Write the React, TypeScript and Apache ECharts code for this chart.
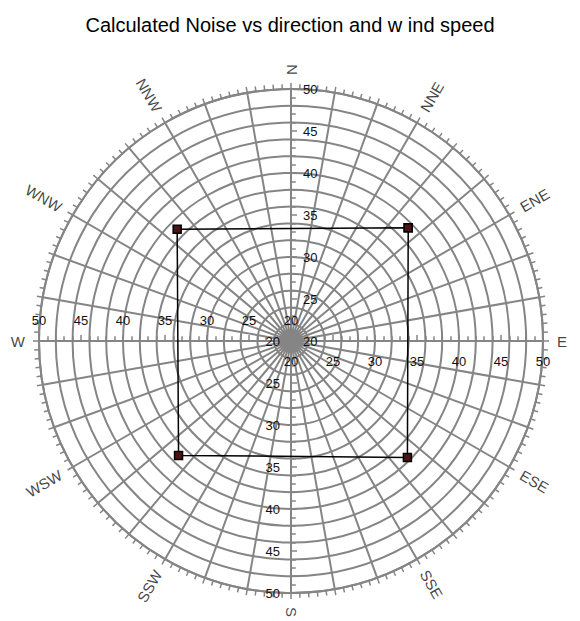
import React, { useEffect, useRef } from "react";
import * as echarts from "echarts";

const titleText = "Calculated Noise vs direction and w ind speed";
const compassNames = ["N", "NNE", "ENE", "E", "ESE", "SSE", "S", "SSW", "WSW", "W", "WNW", "NNW"];
const compassAngles = [0, 30, 60, 90, 120, 150, 180, 210, 240, 270, 300, 330];
const noiseAngles = [46, 135, 224.5, 314.5, 46];
const noiseValues = [39.4, 39.6, 39.1, 39.0, 39.4];
const radiusMin = 20;
const radiusMax = 50;

const GRAY = "#858585";
const FONT = "Liberation Sans, Arial, sans-serif";
const CENTER = [291, 341];
const R = 252;

export default function App() {
  const ref = useRef<HTMLDivElement>(null);
  useEffect(() => {
    if (!ref.current) return;
    const chart = echarts.init(ref.current, undefined, { renderer: "svg" });

    // axis polars: N, E, S, W
    const axisDirs = [
      { start: 90, margin: -12, align: "left", va: "middle", tick: -6 },
      { start: 0, margin: -14, align: "center", va: "top", tick: 6 },
      { start: 270, margin: -11, align: "right", va: "middle", tick: 6 },
      { start: 180, margin: -14, align: "center", va: "bottom", tick: -6 },
    ];

    const polar: any[] = [{ center: CENTER, radius: R }];
    const angleAxis: any[] = [
      {
        polarIndex: 0,
        type: "value",
        min: 0,
        max: 360,
        interval: 10,
        startAngle: 90,
        clockwise: true,
        axisLine: { show: true, lineStyle: { color: GRAY, width: 2 } },
        axisTick: { show: true, length: 6, lineStyle: { color: GRAY, width: 1.5 } },
        minorTick: { show: true, splitNumber: 5, length: 5, lineStyle: { color: GRAY, width: 1.5 } },
        splitLine: { show: true, lineStyle: { color: GRAY, width: 2 } },
        axisLabel: { show: false },
      },
    ];
    const radiusAxis: any[] = [
      {
        polarIndex: 0,
        type: "value",
        min: radiusMin,
        max: radiusMax,
        interval: 2,
        axisLine: { show: false },
        axisTick: { show: false },
        axisLabel: { show: false },
        splitLine: { show: true, lineStyle: { color: GRAY, width: 2 } },
      },
    ];
    axisDirs.forEach((d, i) => {
      const pi = i + 1;
      polar.push({ center: CENTER, radius: R });
      angleAxis.push({
        polarIndex: pi,
        type: "value",
        min: 0,
        max: 360,
        startAngle: d.start,
        show: false,
      });
      radiusAxis.push({
        polarIndex: pi,
        type: "value",
        min: radiusMin,
        max: radiusMax,
        interval: 5,
        axisLine: { show: true, lineStyle: { color: GRAY, width: 2 } },
        axisTick: { show: true, length: d.tick, lineStyle: { color: GRAY, width: 1.5 } },
        minorTick: { show: true, splitNumber: 5, length: d.tick * 0.8, lineStyle: { color: GRAY, width: 1.5 } },
        splitLine: { show: false },
        axisLabel: {
          show: true,
          margin: d.margin,
          align: d.align,
          verticalAlign: d.va,
          color: "#111",
          fontSize: 13,
          fontFamily: FONT,
          hideOverlap: false,
        },
      });
    });
    // compass label polar
    polar.push({ center: CENTER, radius: 266 });
    angleAxis.push({ polarIndex: 5, type: "value", min: 0, max: 360, startAngle: 90, clockwise: true, show: false });
    radiusAxis.push({ polarIndex: 5, type: "value", min: 0, max: 1, show: false });

    const compassData = compassNames.map((n, i) => {
      const a = compassAngles[i];
      const right = a <= 180;
      return {
        name: n,
        value: [1, a],
        label: {
          show: true,
          formatter: n,
          position: "inside",
          rotate: right ? 90 - a : 270 - a,
          align: right ? "left" : "right",
          verticalAlign: "middle",
          fontSize: 15,
          fontFamily: FONT,
          color: "#111",
        },
      };
    });

    chart.setOption({
      animation: false,
      title: {
        text: titleText,
        left: "center",
        top: 10,
        textStyle: { fontSize: 20, fontWeight: "normal", color: "#000", fontFamily: FONT },
      },
      polar,
      angleAxis,
      radiusAxis,
      series: [
        {
          type: "line",
          coordinateSystem: "polar",
          polarIndex: 0,
          data: noiseValues.map((v, i) => [v, noiseAngles[i]]),
          symbol: "rect",
          symbolSize: 8,
          showSymbol: true,
          itemStyle: { color: "#4a1414", borderColor: "#000", borderWidth: 1.5 },
          lineStyle: { color: "#000", width: 1.5 },
          z: 10,
        },
        {
          type: "scatter",
          coordinateSystem: "polar",
          polarIndex: 5,
          symbolSize: 0,
          data: compassData,
          silent: true,
        },
      ],
    });
    return () => chart.dispose();
  }, []);
  return (
    <div
      ref={ref}
      style={{ position: "fixed", left: 0, top: 0, width: 580, height: 621, background: "#fff" }}
    />
  );
}
